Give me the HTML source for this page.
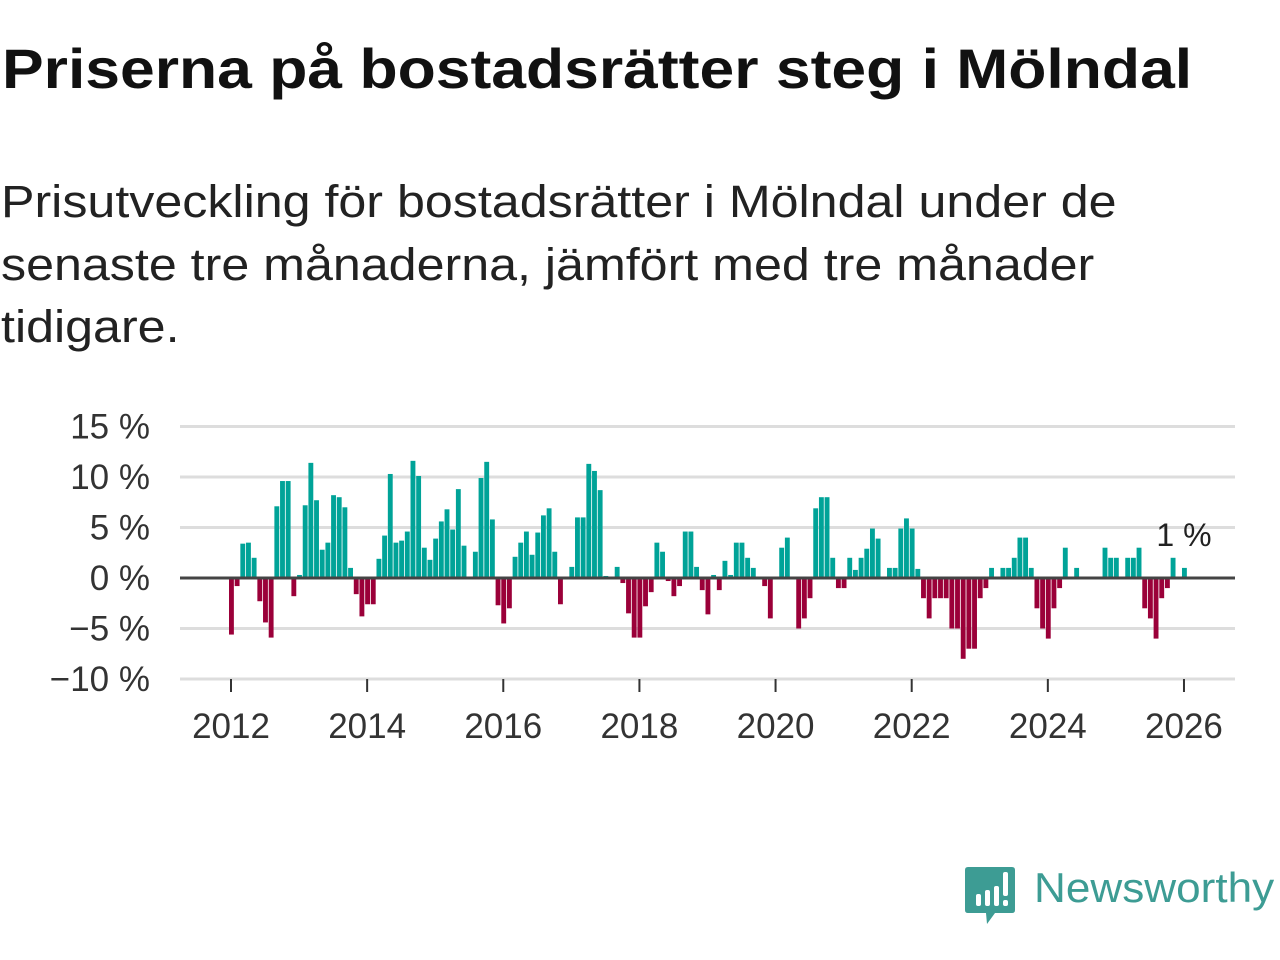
<!DOCTYPE html>
<html><head><meta charset="utf-8">
<style>
html,body{margin:0;padding:0;background:#fff;width:1280px;height:960px;overflow:hidden;font-family:"Liberation Sans",sans-serif;}
#title{position:absolute;left:2px;top:36px;font-size:56px;font-weight:bold;color:#111;white-space:nowrap;transform-origin:0 0;transform:scaleX(1.115);}
#subtitle{position:absolute;left:1px;top:171px;font-size:45px;line-height:62.5px;color:#222;width:1200px;white-space:nowrap;transform-origin:0 0;transform:scaleX(1.115);}
svg{position:absolute;left:0;top:0;}
</style></head><body>
<div id="title">Priserna på bostadsrätter steg i Mölndal</div>
<div id="subtitle">Prisutveckling för bostadsrätter i Mölndal under de<br>senaste tre månaderna, jämfört med tre månader<br>tidigare.</div>
<svg id="chart" width="1280" height="960"></svg>
<div style="position:absolute;left:965px;top:866px;width:320px;height:62px;">
<svg width="52" height="60" style="position:absolute;left:0;top:0">
<path d="M3 1 H47 Q50 1 50 4 V44 Q50 47 47 47 H30 L22 58 L21 47 H3 Q0 47 0 44 V4 Q0 1 3 1Z" fill="#3d9c94"/>
<rect x="11" y="28" width="5" height="12" rx="2" fill="#fff"/>
<rect x="20" y="24" width="5" height="16" rx="2" fill="#fff"/>
<rect x="29" y="20" width="5" height="20" rx="2" fill="#fff"/>
<rect x="38" y="6" width="5" height="24" rx="2" fill="#fff"/>
<rect x="38" y="34" width="5" height="6" rx="2" fill="#fff"/>
</svg>
<div style="position:absolute;left:69px;top:-2px;font-size:42px;color:#3d9c94;white-space:nowrap;transform-origin:0 0;transform:scaleX(1.05);">Newsworthy</div>
</div>
<script>
const values = [-5.6,-0.8,3.4,3.5,2.0,-2.3,-4.4,-5.9,7.1,9.6,9.6,-1.8,
0.3,7.2,11.4,7.7,2.8,3.5,8.2,8.0,7.0,1.0,-1.6,-3.8,
-2.6,-2.6,1.9,4.2,10.3,3.5,3.7,4.6,11.6,10.1,3.0,1.8,
3.9,5.6,6.8,4.8,8.8,3.2,0,2.6,9.9,11.5,5.8,-2.7,
-4.5,-3.0,2.1,3.5,4.6,2.3,4.5,6.2,6.9,2.6,-2.6,0,
1.1,6.0,6.0,11.3,10.6,8.7,0.2,0.1,1.1,-0.5,-3.5,-5.9,
-5.9,-2.8,-1.4,3.5,2.6,-0.3,-1.8,-0.8,4.6,4.6,1.1,-1.2,
-3.6,0.3,-1.2,1.7,0.3,3.5,3.5,2.0,1.0,0,-0.8,-4.0,
0,3.0,4.0,0,-5.0,-4.0,-2.0,6.9,8.0,8.0,2.0,-1.0,
-1.0,2.0,0.8,2.0,2.9,4.9,3.9,0,1.0,1.0,4.9,5.9,
4.9,0.9,-2.0,-4.0,-2.0,-2.0,-2.0,-5.0,-5.0,-8.0,-7.0,-7.0,
-2.0,-1.0,1.0,0,1.0,1.0,2.0,4.0,4.0,1.0,-3.0,-5.0,
-6.0,-3.0,-1.0,3.0,0,1.0,0,0,0,0,3.0,2.0,
2.0,0,2.0,2.0,3.0,-3.0,-4.0,-6.0,-2.0,-1.0,2.0,0,1.0];
const startYear = 2012;
const yTicks = [15,10,5,0,-5,-10];
const xTicks = [2012,2014,2016,2018,2020,2022,2024,2026];
const lastLabel = "1 %";

const NS="http://www.w3.org/2000/svg";
const svg=document.getElementById('chart');
const X0=229, PX_PER_YEAR=68.07, PLOT_L=180, PLOT_R=1235;
function xm(m){return X0+m*PX_PER_YEAR/12;}
function xy(yr){return 231+(yr-startYear)*PX_PER_YEAR;}
function y(v){return 578-v*10.1;}
function mk(tag,attrs){const e=document.createElementNS(NS,tag);for(const k in attrs)e.setAttribute(k,attrs[k]);svg.appendChild(e);return e;}

yTicks.forEach(t=>{
  if(t!==0){const g=mk('line',{x1:PLOT_L,x2:PLOT_R,y1:y(t),y2:y(t),stroke:'#ddd','stroke-width':3});
  
  }
  const lb=mk('text',{x:150,y:y(t)+12,'text-anchor':'end','font-size':35,fill:'#333','font-family':'Liberation Sans, sans-serif'});
  lb.textContent=(t<0?'\u2212'+(-t):t)+' %';
  
  
});
xTicks.forEach(t=>{
  const tk=mk('line',{x1:xy(t),x2:xy(t),y1:679,y2:692,stroke:'#333','stroke-width':2});
  
  
  const lb=mk('text',{x:xy(t),y:738,'text-anchor':'middle','font-size':35,fill:'#333','font-family':'Liberation Sans, sans-serif'});
  lb.textContent=t;
  
  
});
const bw=PX_PER_YEAR/12-0.8;
values.forEach((v,i)=>{
  if(v===0)return;
  const top=Math.min(y(v),y(0)), h=Math.abs(y(v)-y(0));
  const r=mk('rect',{x:xm(i),y:top,width:bw,height:h,fill:v>0?'#00a398':'#9b0039'});
  
  
});
const zl=mk('line',{x1:PLOT_L,x2:PLOT_R,y1:y(0),y2:y(0),stroke:'#444','stroke-width':3});


const li=values.length-1;
const ll=mk('text',{x:xm(li)+2,y:y(values[li])-22,'text-anchor':'middle','font-size':32,fill:'#222','font-family':'Liberation Sans, sans-serif'});
ll.textContent=lastLabel;


</script>
</body></html>
